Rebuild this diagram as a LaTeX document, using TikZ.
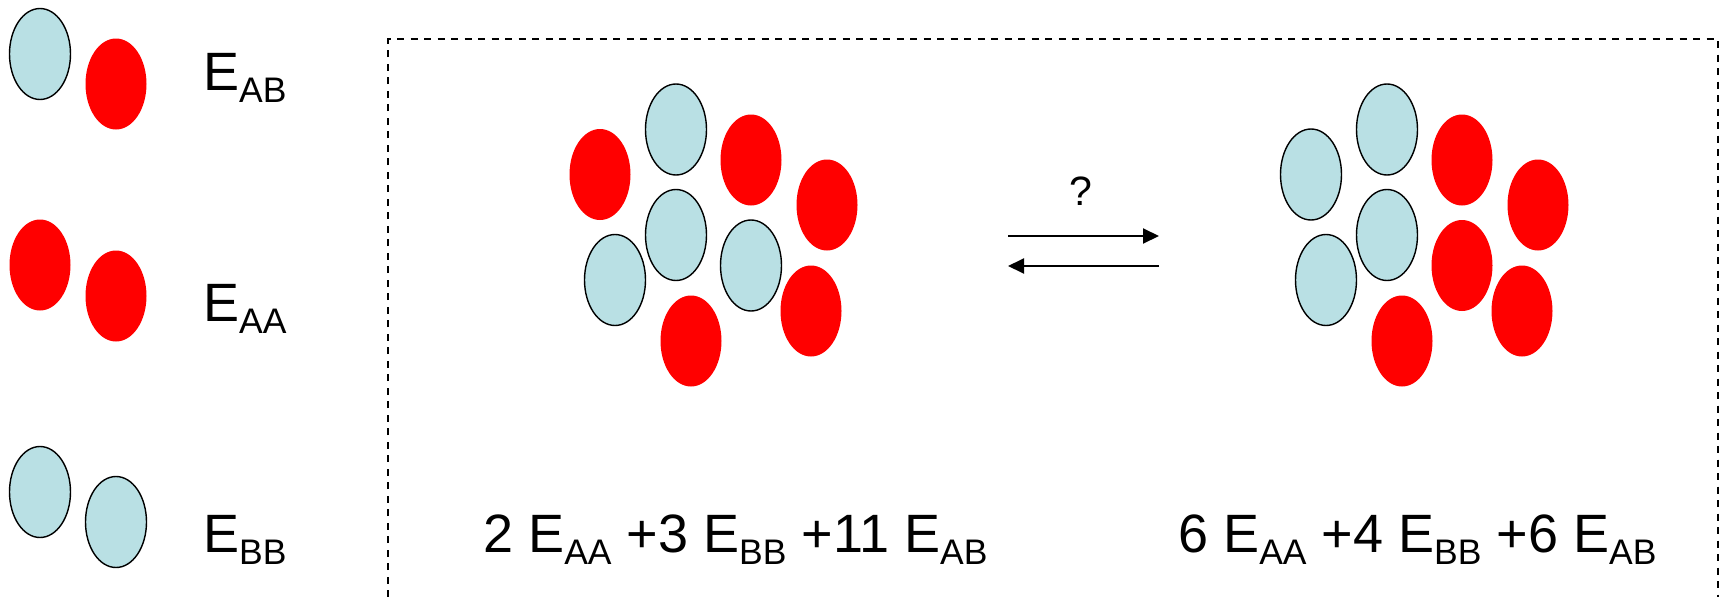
\documentclass[tikz,border=0pt]{standalone}
\usepackage{fontspec}
\setmainfont{Liberation Sans}
\usetikzlibrary{arrows.meta,shapes.geometric}

\definecolor{beadblue}{RGB}{185,224,228}
\newcommand{\Esub}[1]{E\raisebox{-12pt}{\fontsize{35.5}{36}\selectfont #1}}

\begin{document}
\begin{tikzpicture}[x=1pt,y=-1pt,
  bead/.style={ellipse,minimum width=61pt,minimum height=91pt,inner sep=0pt},
  bluebead/.style={bead,draw=black,line width=1.4pt,fill=beadblue},
  redbead/.style={bead,fill=red},
  lbl/.style={anchor=base west,inner sep=0pt,font=\fontsize{54}{60}\selectfont},
  arr/.style={-{Triangle[length=16pt,width=15pt]},line width=2pt}
]
\useasboundingbox (0,0) rectangle (1725,597);

% legend
\node[bluebead] (ab1) at (40,54) {};
\node[redbead]  (ab2) at (116,84) {};
\node[redbead]  (aa1) at (40,265) {};
\node[redbead]  (aa2) at (116,296) {};
\node[bluebead] (bb1) at (40,492) {};
\node[bluebead] (bb2) at (116,522) {};
\node[lbl] (eab) at (203,90.6) {\Esub{AB}};
\node[lbl] (eaa) at (203,321.8) {\Esub{AA}};
\node[lbl] (ebb) at (203,552) {\Esub{BB}};

% frame
\draw[dash pattern=on 7pt off 6.5pt,line width=1.2pt]
  (388,597) -- (388,39) -- (1718,39) -- (1718,597);

% mixed state
\node[redbead]  (m1) at (600,174.5) {};
\node[bluebead] (m2) at (676,129.5) {};
\node[redbead]  (m3) at (751,160) {};
\node[redbead]  (m4) at (827,205) {};
\node[bluebead] (m5) at (676,235) {};
\node[bluebead] (m6) at (615,280) {};
\node[bluebead] (m7) at (751,265.5) {};
\node[redbead]  (m8) at (691,341) {};
\node[redbead]  (m9) at (811,311) {};

% separated state
\node[bluebead] (s1) at (1311,174.5) {};
\node[bluebead] (s2) at (1387,129.5) {};
\node[redbead]  (s3) at (1462,160) {};
\node[redbead]  (s4) at (1538,205) {};
\node[bluebead] (s5) at (1387,235) {};
\node[bluebead] (s6) at (1326,280) {};
\node[redbead]  (s7) at (1462,265.5) {};
\node[redbead]  (s8) at (1402,341) {};
\node[redbead]  (s9) at (1522,311) {};

% equilibrium
\coordinate (fwdA) at (1008,236);
\coordinate (fwdB) at (1159,236);
\coordinate (bwdA) at (1159,266);
\coordinate (bwdB) at (1008,266);
\draw[arr] (fwdA) -- (fwdB);
\draw[arr] (bwdA) -- (bwdB);
\node[anchor=base,inner sep=0pt,font=\fontsize{41}{45}\selectfont] (q) at (1081,205) {?};

% energies
\node[lbl] (emix) at (483,552) {2 \Esub{AA} +3 \Esub{BB} +11 \Esub{AB}};
\node[lbl] (esep) at (1178,552) {6 \Esub{AA} +4 \Esub{BB} +6 \Esub{AB}};
\end{tikzpicture}
\end{document}
